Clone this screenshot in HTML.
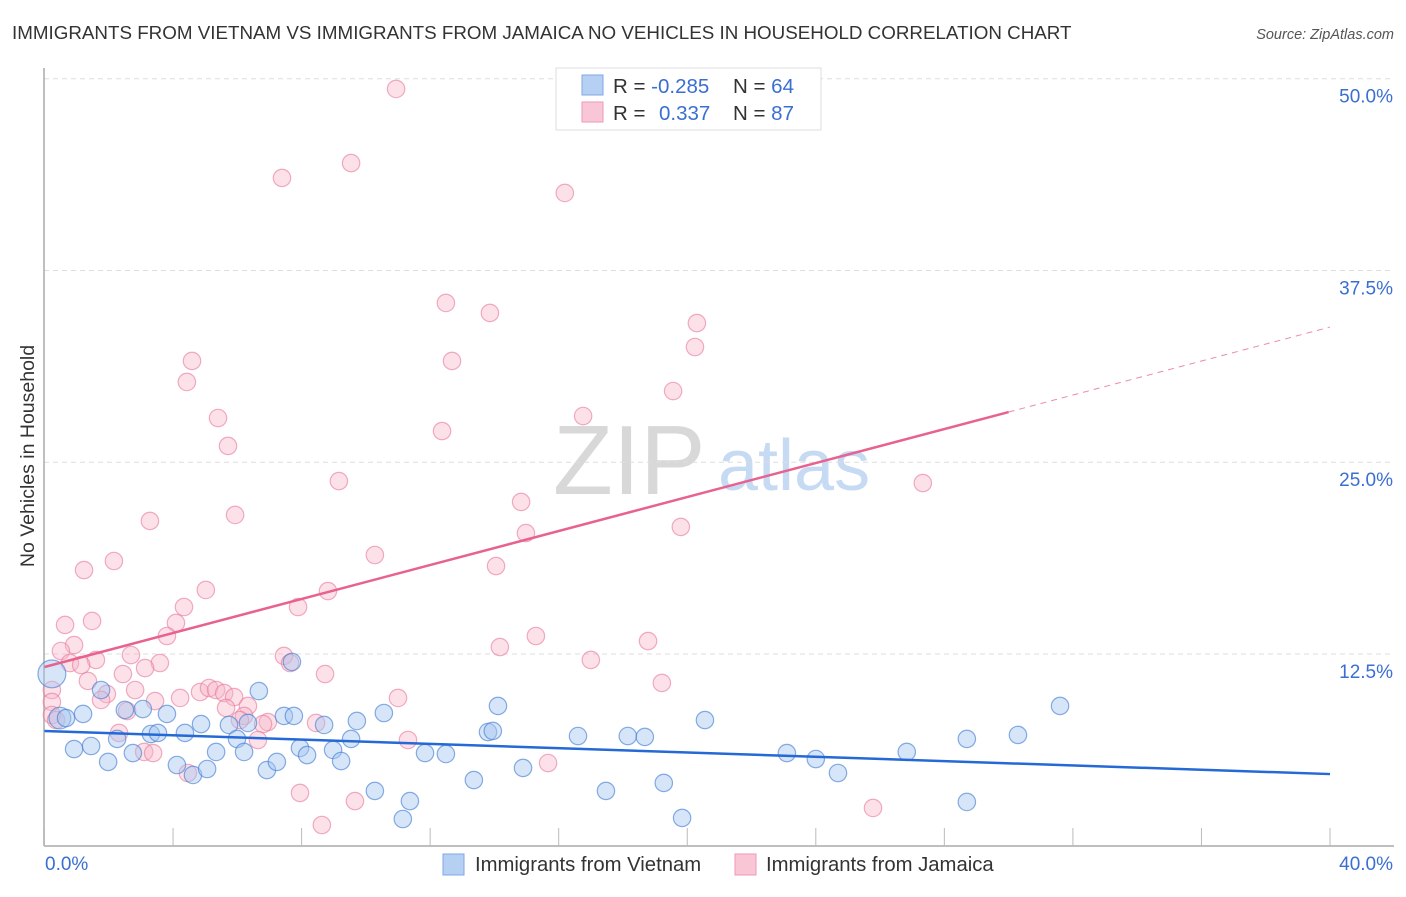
<!DOCTYPE html>
<html><head><meta charset="utf-8"><style>
body{margin:0;background:#fff;font-family:"Liberation Sans",sans-serif}
svg text{font-family:"Liberation Sans",sans-serif}
</style></head><body>
<svg id="c" width="1406" height="892" xmlns="http://www.w3.org/2000/svg">
<text x="12" y="39" font-size="18.8" fill="#333">IMMIGRANTS FROM VIETNAM VS IMMIGRANTS FROM JAMAICA NO VEHICLES IN HOUSEHOLD CORRELATION CHART</text>
<text x="1394" y="39" font-size="14.5" fill="#555" font-style="italic" text-anchor="end">Source: ZipAtlas.com</text>
<text transform="translate(34,456) rotate(-90)" font-size="19.5" fill="#333" text-anchor="middle">No Vehicles in Household</text>
<g><text x="553" y="494" font-family="Liberation Serif" font-size="98" fill="#d8d8d8">ZIP</text><text x="718" y="490" font-size="72" fill="#c6daf3">atlas</text></g>
<g id="grid"></g><g id="axes"></g><g id="pts"></g><g id="lines"></g>
<g>
<rect x="556" y="68" width="265" height="62" fill="#fff" stroke="#ddd"/>
<rect x="582" y="75" width="21" height="20" fill="#b6d0f4" stroke="#7fa9e6"/>
<rect x="582" y="102" width="21" height="20" fill="#f9c6d5" stroke="#ef9ab5"/>
<text x="613" y="93" font-size="20.5" fill="#333">R = <tspan fill="#3a6fd1">-0.285</tspan><tspan x="733">N = </tspan><tspan fill="#3a6fd1">64</tspan></text>
<text x="613" y="120" font-size="20.5" fill="#333">R = <tspan x="659" fill="#3a6fd1">0.337</tspan><tspan x="733">N = </tspan><tspan fill="#3a6fd1">87</tspan></text>
</g>
<g>
<rect x="443" y="854" width="21" height="21" fill="#b6d0f4" stroke="#7fa9e6"/>
<text x="475" y="871" font-size="20.3" fill="#333">Immigrants from Vietnam</text>
<rect x="735" y="854" width="21" height="21" fill="#f9c6d5" stroke="#ef9ab5"/>
<text x="766" y="871" font-size="20.3" fill="#333">Immigrants from Jamaica</text>
</g>
</svg>
<script>
const yTicks=[12.5,25,37.5,50];
const yTickLabels=["12.5%","25.0%","37.5%","50.0%"];
const xTicks=[0,4,8,12,16,20,24,28,32,36,40];
const xLabels=[[0,"0.0%"],[40,"40.0%"]];
const vietX=[0.23,0.48,0.67,1.20,0.92,1.45,1.76,1.98,2.26,2.50,2.75,3.06,3.31,3.53,3.81,4.12,4.37,4.62,5.06,4.87,5.34,5.74,5.99,6.21,6.33,6.67,6.92,7.23,7.45,7.76,7.70,7.95,8.17,8.70,8.98,9.23,9.54,9.72,10.28,10.56,11.15,11.37,11.84,12.49,13.36,13.80,13.95,14.11,14.89,16.60,17.47,18.15,18.68,19.27,19.84,20.55,23.10,24.00,24.69,26.83,28.70,28.70,30.29,31.60];
const vietY=[11.2,8.32,8.32,8.59,6.30,6.50,10.15,5.46,6.96,8.85,6.04,8.91,7.28,7.35,8.59,5.26,7.35,4.61,5.00,7.93,6.11,7.87,6.96,6.11,8.00,10.08,4.93,5.46,8.46,8.46,11.98,6.37,5.91,7.87,6.24,5.52,6.96,8.13,3.57,8.65,1.74,2.91,6.04,5.98,4.28,7.41,7.48,9.11,5.07,7.15,3.57,7.15,7.09,4.09,1.81,8.19,6.04,5.65,4.74,6.11,6.96,2.85,7.22,9.11];
const vietSize=[1.6,1.25];
const jamX=[10.94,9.54,7.39,16.19,12.49,13.86,20.30,20.24,4.59,4.43,12.68,19.56,16.76,5.40,12.37,5.71,9.16,27.33,14.83,3.28,5.93,14.98,19.80,10.28,14.05,2.16,1.23,8.82,5.02,7.89,4.34,1.48,0.64,4.09,3.81,0.92,18.78,14.17,15.29,0.51,7.45,7.64,2.69,1.60,3.59,17.00,0.79,3.13,1.14,2.44,1.35,8.73,19.21,0.23,1.94,2.82,4.22,4.84,5.12,5.34,5.59,5.90,11.00,1.76,3.44,0.23,2.57,6.33,6.21,6.08,6.95,6.80,8.45,0.23,2.32,6.64,11.31,3.10,3.38,15.67,7.95,9.66,8.63,25.78,0.36,4.46,5.65];
const jamY=[49.33,44.50,43.53,42.55,35.38,34.73,34.07,32.51,31.60,30.23,31.60,29.64,28.01,27.88,27.03,26.06,23.77,23.64,22.41,21.17,21.56,20.38,20.78,18.95,18.23,18.56,17.97,16.60,16.67,15.56,15.56,14.65,14.39,14.52,13.67,13.08,13.34,12.95,13.67,12.69,12.37,11.91,12.43,12.11,11.91,12.11,11.91,11.58,11.78,11.19,10.74,11.19,10.61,10.15,9.89,10.15,9.63,10.02,10.28,10.15,9.95,9.69,9.63,9.50,9.43,9.37,8.78,9.11,8.46,8.19,8.06,7.93,8.00,8.52,7.35,6.89,6.89,6.11,6.04,5.39,3.44,2.91,1.35,2.46,8.19,4.74,8.98];
const vietTrend=[7.48,4.67];
const jamTrend=[11.65,33.81];
const jamSolidEnd=30;
const X0=44.5,X1=1330,Y0=845.7,YPX=15.34;
const sx=v=>X0+(X1-X0)*v/40, sy=v=>Y0-v*YPX;
const NS="http://www.w3.org/2000/svg";
function mk(t,a,p){const e=document.createElementNS(NS,t);for(const k in a)e.setAttribute(k,a[k]);document.getElementById(p).appendChild(e);return e;}
yTicks.forEach((v,i)=>{
 const l=mk('line',{x1:44,x2:1394,y1:sy(v),y2:sy(v),stroke:'#ddd','stroke-dasharray':'5,4'},'grid');
 
 
 const t=mk('text',{x:1393,y:sy(v)+24,'font-size':19,fill:'#3a6fd1','text-anchor':'end'},'grid');t.textContent=yTickLabels[i];
 
 
});
let a=mk('line',{x1:44,x2:44,y1:68,y2:846,stroke:'#aaa','stroke-width':1.5},'axes');


a=mk('line',{x1:44,x2:1394,y1:846,y2:846,stroke:'#aaa','stroke-width':1.5},'axes');


xTicks.forEach(v=>{const t=mk('line',{x1:sx(v),x2:sx(v),y1:828,y2:846,stroke:'#bbb'},'axes');
 
 });
xLabels.forEach(([v,s],i)=>{const t=mk('text',{x:i?1393:45,y:870,'font-size':19,fill:'#3a6fd1','text-anchor':i?'end':'start'},'axes');t.textContent=s;
 
 });
jamX.forEach((x,i)=>{const c=mk('circle',{cx:sx(x),cy:sy(jamY[i]),r:8.7,fill:'rgba(248,180,200,0.4)',stroke:'rgba(232,120,155,0.6)','stroke-width':1.2},'pts');
 
 });
vietX.forEach((x,i)=>{const c=mk('circle',{cx:sx(x),cy:sy(vietY[i]),r:i<2?8.7*vietSize[i]:8.7,fill:'rgba(164,198,240,0.45)',stroke:'rgba(60,120,210,0.6)','stroke-width':1.2},'pts');
 
 });
let L=mk('line',{x1:sx(0),y1:sy(vietTrend[0]),x2:sx(40),y2:sy(vietTrend[1]),stroke:'#2469d6','stroke-width':2.5},'lines');


const jm=jamTrend[0]+(jamTrend[1]-jamTrend[0])*jamSolidEnd/40;
L=mk('line',{x1:sx(0),y1:sy(jamTrend[0]),x2:sx(jamSolidEnd),y2:sy(jm),stroke:'#e8628f','stroke-width':2.5},'lines');


L=mk('line',{x1:sx(jamSolidEnd),y1:sy(jm),x2:sx(40),y2:sy(jamTrend[1]),stroke:'#eb8aab','stroke-width':1,'stroke-dasharray':'6,5'},'lines');


</script>
</body></html>
